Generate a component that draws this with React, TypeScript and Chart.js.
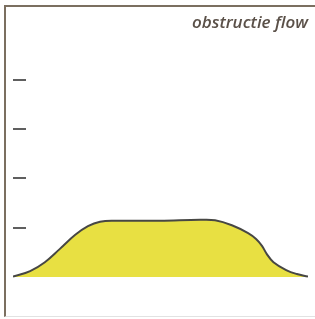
import React, { useEffect, useRef } from "react";
import { Chart, registerables } from "chart.js";

Chart.register(...registerables);

const TITLE = "obstructie flow";
const xValues = [0, 5.8, 10.8, 15.9, 21.0, 25.4, 29.5, 34.6, 49.8, 63.4, 68.5, 74.2, 79.7, 82.4, 84.4, 86.1, 88.3, 92.6, 96.2, 100];
const flowValues = [0.01, 0.12, 0.3, 0.57, 0.85, 1.03, 1.12, 1.14, 1.14, 1.16, 1.15, 1.05, 0.89, 0.77, 0.63, 0.46, 0.3, 0.14, 0.06, 0.01];
const tickValues = [1, 2, 3, 4];

export default function App() {
  const ref = useRef<HTMLCanvasElement | null>(null);

  useEffect(() => {
    if (!ref.current) return;
    const chart = new Chart(ref.current, {
      type: "line",
      data: {
        datasets: [
          {
            data: xValues.map((x, i) => ({ x, y: flowValues[i] })),
            borderColor: "#474744",
            borderWidth: 2,
            backgroundColor: "#e8e042",
            fill: "origin",
            tension: 0.4,
            pointRadius: 0,
          },
        ],
      },
      options: {
        responsive: false,
        animation: false,
        events: [],
        layout: { padding: { left: 13, right: 7, top: 0, bottom: 19 } },
        plugins: {
          legend: { display: false },
          tooltip: { enabled: false },
          title: {
            display: true,
            text: TITLE,
            align: "end",
            color: "#5a5048",
            font: { family: "'Open Sans'", size: 17, style: "italic", weight: "600", lineHeight: 1.2 },
            padding: { top: 13, bottom: 9.6 },
          },
        },
        scales: {
          x: { type: "linear", min: 0, max: 100, display: false },
          y: {
            type: "linear",
            min: -0.467,
            max: 4.746,
            position: { x: 4.4 } as any,
            afterBuildTicks: (scale: any) => {
              scale.ticks = tickValues.map((v) => ({ value: v }));
            },
            ticks: { display: false },
            border: { display: false },
            grid: {
              drawOnChartArea: false,
              drawTicks: true,
              tickLength: 13,
              color: "#5f5f5f",
              lineWidth: 2,
            },
          },
        },
      },
    });
    return () => chart.destroy();
  }, []);

  return (
    <div style={{ position: "fixed", left: 0, top: 0, width: 315, height: 319, background: "#fff" }}>
      <div
        style={{
          position: "absolute",
          left: 4,
          top: 5,
          width: 311,
          height: 312,
          borderLeft: "2px solid #7b6f60",
          borderTop: "2px solid #7b6f60",
          borderBottom: "1px solid #e2e2e2",
          boxSizing: "border-box",
        }}
      />
      <canvas ref={ref} width={315} height={319} style={{ position: "absolute", left: 0, top: 0 }} />
    </div>
  );
}
